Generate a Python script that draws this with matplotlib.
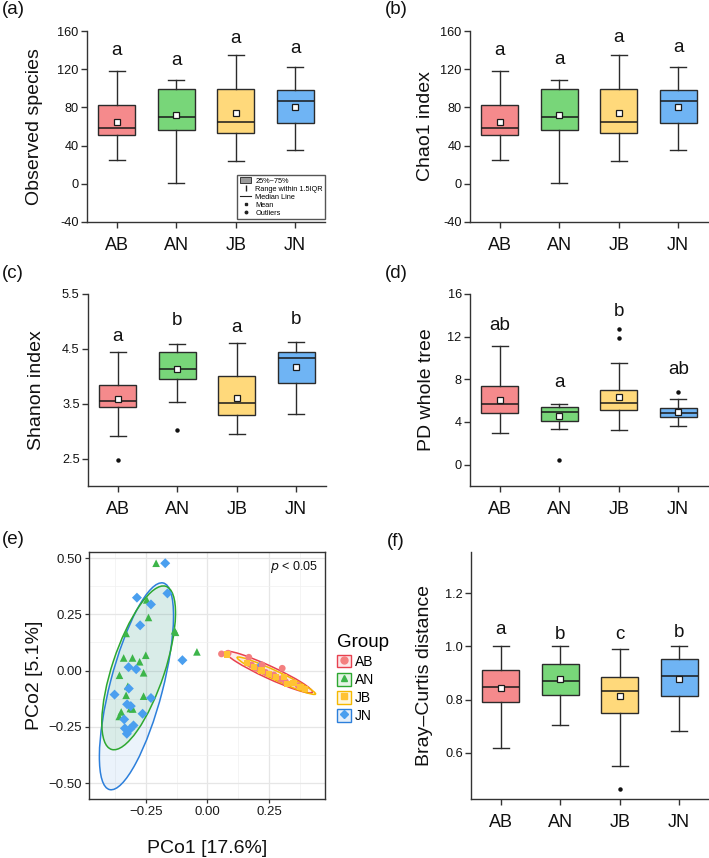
import matplotlib
matplotlib.use('Agg')
import matplotlib.pyplot as plt
from matplotlib.patches import Ellipse, Patch, Rectangle
from matplotlib.lines import Line2D
from matplotlib.legend_handler import HandlerTuple

plt.rcParams['font.family'] = ['Liberation Sans', 'DejaVu Sans']
plt.rcParams['axes.unicode_minus'] = False

# ---------------- data ----------------
groups = ['AB', 'AN', 'JB', 'JN']
box_colors = ['#F58A8C', '#78D679', '#FFD97B', '#6FB4F4']

# (a) Observed species
obs_whislo = [24.7, 0.7, 23.4, 34.9]
obs_q1 = [50.9, 56.5, 53.3, 63.8]
obs_med = [58.9, 70.1, 65.2, 87.1]
obs_q3 = [82.6, 99.7, 99.7, 98.0]
obs_whishi = [118.2, 109.0, 135.2, 122.4]
obs_mean = [65.2, 72.2, 74.6, 80.5]
obs_fliers = [[], [], [], []]
obs_letters = ['a', 'a', 'a', 'a']
obs_letter_y = [134.9, 124.4, 147.8, 136.6]

# (b) Chao1 index
chao_whislo = [24.7, 0.7, 23.4, 34.9]
chao_q1 = [50.9, 56.5, 53.3, 63.8]
chao_med = [58.9, 70.1, 65.2, 87.1]
chao_q3 = [82.6, 99.7, 99.7, 98.0]
chao_whishi = [118.2, 109.0, 135.2, 122.4]
chao_mean = [65.2, 72.2, 74.6, 80.5]
chao_fliers = [[], [], [], []]
chao_letters = ['a', 'a', 'a', 'a']
chao_letter_y = [134.9, 125.0, 149.0, 137.5]

# (c) Shanon index
sha_whislo = [2.915, 3.524, 2.939, 3.305]
sha_q1 = [3.439, 3.957, 3.287, 3.872]
sha_med = [3.543, 4.128, 3.512, 4.335]
sha_q3 = [3.841, 4.439, 4.012, 4.451]
sha_whishi = [4.439, 4.590, 4.604, 4.622]
sha_mean = [3.591, 4.128, 3.598, 4.165]
sha_fliers = [[2.47], [3.02], [], []]
sha_letters = ['a', 'b', 'a', 'b']
sha_letter_y = [4.646, 4.939, 4.80, 4.957]

# (d) PD whole tree
pd_whislo = [3.00, 3.31, 3.25, 3.66]
pd_q1 = [4.81, 4.09, 5.16, 4.47]
pd_med = [5.66, 4.94, 5.81, 4.81]
pd_q3 = [7.38, 5.41, 7.03, 5.31]
pd_whishi = [11.09, 5.72, 9.56, 6.16]
pd_mean = [6.06, 4.53, 6.38, 4.94]
pd_fliers = [[], [0.44], [11.84, 12.69], [6.84]]
pd_letters = ['ab', 'a', 'b', 'ab']
pd_letter_y = [12.63, 7.25, 13.97, 8.5]

# (f) Bray-Curtis distance
bc_whislo = [0.618, 0.705, 0.551, 0.684]
bc_q1 = [0.790, 0.819, 0.749, 0.813]
bc_med = [0.849, 0.871, 0.833, 0.888]
bc_q3 = [0.912, 0.932, 0.886, 0.952]
bc_whishi = [1.000, 1.000, 0.990, 1.000]
bc_mean = [0.844, 0.877, 0.814, 0.879]
bc_fliers = [[], [], [0.466], []]
bc_letters = ['a', 'b', 'c', 'b']
bc_letter_y = [1.047, 1.027, 1.027, 1.034]

# (e) PCoA scores
ab_x = [0.057, 0.084, 0.168, 0.179, 0.222, 0.236, 0.304, 0.297, 0.317, 0.351, 0.369, 0.270, 0.195]
ab_y = [0.074, 0.077, 0.059, 0.025, 0.025, -0.008, 0.010, -0.037, -0.049, -0.055, -0.067, -0.020, 0.010]
an_x = [-0.209, -0.247, -0.240, -0.331, -0.134, -0.130, -0.043, -0.341, -0.305, -0.276,
        -0.251, -0.358, -0.260, -0.324, -0.331, -0.260, -0.351, -0.359, -0.314, -0.304]
an_y = [0.477, 0.314, 0.236, 0.165, 0.177, 0.170, 0.083, 0.056, 0.056, 0.039,
        0.068, -0.021, -0.010, -0.070, -0.110, -0.114, -0.184, -0.204, -0.169, -0.171]
jb_x = [0.079, 0.189, 0.250, 0.311, 0.324, 0.378, 0.398, 0.220, 0.280, 0.350, 0.160]
jb_y = [0.071, 0.015, -0.015, -0.030, -0.060, -0.074, -0.082, 0.000, -0.030, -0.055, 0.035]
jn_x = [-0.172, -0.287, -0.163, -0.230, -0.274, -0.102, -0.321, -0.290, -0.378, -0.320,
        -0.230, -0.327, -0.312, -0.264, -0.339, -0.336, -0.301, -0.328, -0.314, 0.215]
jn_y = [0.477, 0.324, 0.343, 0.294, 0.201, 0.046, 0.015, 0.006, -0.107, -0.080,
        -0.122, -0.150, -0.158, -0.192, -0.217, -0.257, -0.244, -0.281, -0.259, 0.019]

# 95% ellipses (centre, semi-axes, angle in degrees)
ell_cx = [0.250, -0.280, 0.280, -0.289]
ell_cy = [-0.007, 0.012, -0.023, -0.070]
ell_a = [0.198, 0.379, 0.179, 0.472]
ell_b = [0.027, 0.107, 0.019, 0.1075]
ell_angle = [-26.9, 73.2, -27.1, 76.7]

pcoa_xticks = [-0.25, 0.0, 0.25]
pcoa_xticklabels = ['\u22120.25', '0.00', '0.25']
pcoa_yticks = [-0.50, -0.25, 0.0, 0.25, 0.50]
pcoa_yticklabels = ['\u22120.50', '\u22120.25', '0.00', '0.25', '0.50']

# ---------------- figure ----------------
W, H = 709, 858
fig = plt.figure(figsize=(W / 100, H / 100), dpi=100)


def rect(left, top, right, bottom):
    return [left / W, 1 - bottom / H, (right - left) / W, (bottom - top) / H]


def boxpanel(ax, whislo, q1, med, q3, whishi, mean, fliers, letters, letter_y,
             ylim, yticks, ylabel, label_x):
    stats = []
    for i in range(len(groups)):
        stats.append(dict(whislo=whislo[i], q1=q1[i], med=med[i], q3=q3[i],
                          whishi=whishi[i], mean=mean[i], fliers=fliers[i]))
    pos = list(range(1, len(groups) + 1))
    bp = ax.bxp(stats, positions=pos, widths=0.62, capwidths=0.27,
                patch_artist=True, showmeans=True, showfliers=True,
                boxprops=dict(edgecolor='#2b2b2b', linewidth=1.0),
                medianprops=dict(color='#1a1a1a', linewidth=1.1),
                whiskerprops=dict(color='#2b2b2b', linewidth=1.0),
                capprops=dict(color='#2b2b2b', linewidth=1.0),
                meanprops=dict(marker='s', markerfacecolor='white',
                               markeredgecolor='#1a1a1a', markersize=4.2,
                               markeredgewidth=0.9),
                flierprops=dict(marker='o', markerfacecolor='#111111',
                                markeredgecolor='#111111', markersize=2.2))
    for patch, c in zip(bp['boxes'], box_colors):
        patch.set_facecolor(c)
    for p, t, y in zip(pos, letters, letter_y):
        ax.text(p, y, t, ha='center', va='baseline', fontsize=13.5, color='#111111')
    ax.set_xlim(0.5, 4.5)
    ax.set_ylim(*ylim)
    ax.set_yticks(yticks)
    ax.set_xticks(pos, groups)
    for s in ['top', 'right']:
        ax.spines[s].set_visible(False)
    for s in ['left', 'bottom']:
        ax.spines[s].set_color('#333333')
        ax.spines[s].set_linewidth(1.0)
    ax.tick_params(axis='y', direction='out', length=4, width=1, colors='#333333',
                   labelcolor='#111111', labelsize=9.2, pad=2)
    ax.tick_params(axis='x', direction='out', length=4, width=1, colors='#333333',
                   labelcolor='#111111', labelsize=13, pad=7)
    ax.set_ylabel(ylabel, fontsize=14, color='#111111')
    ax.yaxis.set_label_coords(label_x, 0.5)


ax_a = fig.add_axes(rect(87, 31, 325, 222))
boxpanel(ax_a, obs_whislo, obs_q1, obs_med, obs_q3, obs_whishi, obs_mean, obs_fliers,
         obs_letters, obs_letter_y, (-40, 160), [-40, 0, 40, 80, 120, 160],
         'Observed species', -0.185)

ax_b = fig.add_axes(rect(470, 31, 708, 222))
boxpanel(ax_b, chao_whislo, chao_q1, chao_med, chao_q3, chao_whishi, chao_mean, chao_fliers,
         chao_letters, chao_letter_y, (-40, 160), [-40, 0, 40, 80, 120, 160],
         'Chao1 index', -0.151)

ax_c = fig.add_axes(rect(88, 294, 326, 486))
boxpanel(ax_c, sha_whislo, sha_q1, sha_med, sha_q3, sha_whishi, sha_mean, sha_fliers,
         sha_letters, sha_letter_y, (2.0, 5.5), [2.5, 3.5, 4.5, 5.5],
         'Shanon index', -0.181)

ax_d = fig.add_axes(rect(470, 294, 708, 486))
boxpanel(ax_d, pd_whislo, pd_q1, pd_med, pd_q3, pd_whishi, pd_mean, pd_fliers,
         pd_letters, pd_letter_y, (-2, 16), [0, 4, 8, 12, 16],
         'PD whole tree', -0.147)

ax_f = fig.add_axes(rect(471, 552, 709, 799))
boxpanel(ax_f, bc_whislo, bc_q1, bc_med, bc_q3, bc_whishi, bc_mean, bc_fliers,
         bc_letters, bc_letter_y, (0.427, 1.354), [0.6, 0.8, 1.0, 1.2],
         'Bray\u2013Curtis distance', -0.160)

# legend in panel (a)
leg_handles = [Patch(facecolor='#9a9a9a', edgecolor='#222222', linewidth=0.6),
               Line2D([], [], marker='$\\mathrm{I}$', color='#222222', linestyle='none', markersize=5),
               Line2D([], [], color='#222222', linewidth=0.8),
               Line2D([], [], marker='s', color='#222222', linestyle='none', markersize=1.6),
               Line2D([], [], marker='o', color='#222222', linestyle='none', markersize=1.8)]
leg_labels = ['25%~75%', 'Range within 1.5IQR', 'Median Line', 'Mean', 'Outliers']
ax_a.legend(leg_handles, leg_labels, loc='lower right', bbox_to_anchor=(1.0, 0.016),
            fontsize=5.3, frameon=True, fancybox=False, edgecolor='#555555',
            framealpha=1, borderpad=0.3, labelspacing=0.12, handlelength=1.6,
            handleheight=0.7, handletextpad=0.5, borderaxespad=0)

# ---------------- (e) PCoA ----------------
ax_e = fig.add_axes(rect(89, 552, 325, 799))
pt_colors = ['#F47F7F', '#3DB54A', '#FFC233', '#4A9FEF']
ell_colors = ['#E8414F', '#2DA830', '#F5B800', '#2C7FDB']
markers = ['o', '^', 's', 'D']
sizes = [24, 30, 20, 26]
xs = [ab_x, an_x, jb_x, jn_x]
ys = [ab_y, an_y, jb_y, jn_y]

ax_e.set_xlim(-0.482, 0.478)
ax_e.set_ylim(-0.571, 0.527)
ax_e.set_xticks(pcoa_xticks, pcoa_xticklabels)
ax_e.set_yticks(pcoa_yticks, pcoa_yticklabels)
ax_e.set_xticks([-0.375, -0.125, 0.125, 0.375], minor=True)
ax_e.set_yticks([-0.375, -0.125, 0.125, 0.375], minor=True)
ax_e.grid(True, which='major', color='#E6E6E6', linewidth=0.9, zorder=0)
ax_e.grid(True, which='minor', color='#F0F0F0', linewidth=0.5, zorder=0)
ax_e.set_axisbelow(True)
ax_e.tick_params(which='minor', length=0)
ax_e.tick_params(which='major', direction='out', length=3, width=0.9, colors='#333333',
                 labelcolor='#1a1a1a', labelsize=9.5, pad=2)
for s in ax_e.spines.values():
    s.set_color('#333333')
    s.set_linewidth(1.0)

draw_order = [3, 1, 0, 2]
for i in draw_order:
    ax_e.add_patch(Ellipse((ell_cx[i], ell_cy[i]), 2 * ell_a[i], 2 * ell_b[i],
                           angle=ell_angle[i], facecolor=ell_colors[i], alpha=0.09,
                           edgecolor='none', zorder=2))
for i in draw_order:
    ax_e.add_patch(Ellipse((ell_cx[i], ell_cy[i]), 2 * ell_a[i], 2 * ell_b[i],
                           angle=ell_angle[i], facecolor='none',
                           edgecolor=ell_colors[i], linewidth=1.1, zorder=3))
for i in [1, 3, 0, 2]:
    ax_e.scatter(xs[i], ys[i], marker=markers[i], s=sizes[i], color=pt_colors[i],
                 edgecolors='none', zorder=4)

ax_e.text(0.352, 0.462, '$p$ < 0.05', fontsize=9, ha='center', va='center', color='#111111')
ax_e.set_xlabel('PCo1 [17.6%]', fontsize=14, color='#111111')
ax_e.set_ylabel('PCo2 [5.1%]', fontsize=14, color='#111111')
ax_e.xaxis.set_label_coords(0.5, -0.165)
ax_e.yaxis.set_label_coords(-0.195, 0.5)

lg_handles = []
for i in range(4):
    box = Rectangle((0, 0), 1, 1, facecolor=ell_colors[i], alpha=0.12, edgecolor='none')
    frame = Rectangle((0, 0), 1, 1, facecolor='none', edgecolor=ell_colors[i], linewidth=1.0)
    mk = Line2D([], [], marker=markers[i], color=pt_colors[i], linestyle='none',
                markersize=5 if markers[i] != 'D' else 4.3)
    lg_handles.append((box, frame, mk))
fig.legend(lg_handles, groups, loc='upper left', bbox_to_anchor=(327 / W, 1 - 624 / H),
           handler_map={tuple: HandlerTuple(ndivide=1)}, title='Group',
           title_fontsize=13.5, fontsize=10, frameon=False, handlelength=1.05,
           handleheight=1.05, handletextpad=0.25, labelspacing=0.28,
           alignment='left', borderpad=0.2)

# panel labels
for txt, x, y in [('(a)', 2, 10), ('(b)', 385, 10), ('(c)', 2, 273),
                  ('(d)', 385, 274), ('(e)', 2, 540), ('(f)', 387, 541)]:
    fig.text(x / W, 1 - y / H, txt, fontsize=13.5, ha='left', va='center', color='#111111')

fig.savefig('out.png', dpi=100)
